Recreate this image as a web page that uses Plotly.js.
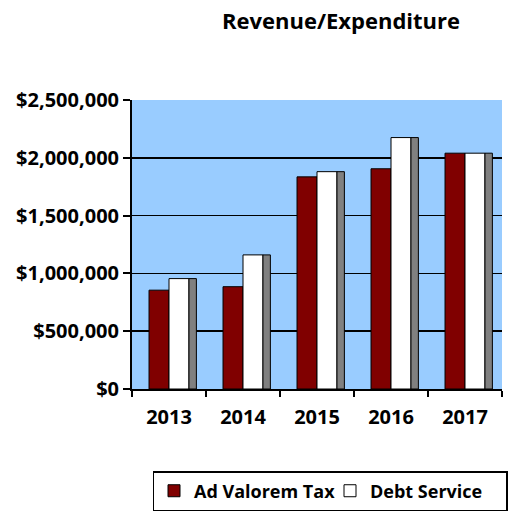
<!DOCTYPE html>
<html>
<head>
<meta charset="utf-8">
<script src="https://cdn.plot.ly/plotly-3.0.1.min.js"></script>
<style>html,body{margin:0;padding:0;background:#fff;}#chart{width:510px;height:512px;}</style>
</head>
<body>
<div id="chart"></div>
<script>
const years = ['2013', '2014', '2015', '2016', '2017'];
const adValoremTax = [855000, 885000, 1835000, 1905000, 2040000];
const debtService = [955000, 1160000, 1880000, 2175000, 2040000];
const yTickVals = [0, 500000, 1000000, 1500000, 2000000, 2500000];
const yTickText = ['$0', '$500,000', '$1,000,000', '$1,500,000', '$2,000,000', '$2,500,000'];

const FONT = 'Open Sans, Lato, sans-serif';
const BW = 0.27;

const traces = [
  {
    type: 'bar', name: 'Ad Valorem Tax', x: years, y: adValoremTax,
    width: BW, offset: -BW,
    marker: {color: '#800000', line: {color: '#000', width: 1}},
    hoverinfo: 'y'
  },
  {
    type: 'bar', name: 'Debt Service', x: years, y: debtService,
    width: BW, offset: 0,
    marker: {color: '#ffffff', line: {color: '#000', width: 1}},
    hoverinfo: 'y'
  },
  {
    type: 'bar', name: 'side', x: years, y: debtService,
    width: 0.1, offset: BW, showlegend: false,
    marker: {color: '#808080', line: {color: '#000', width: 1}},
    hoverinfo: 'skip'
  }
];

const layout = {
  width: 510, height: 512,
  margin: {l: 132, r: 8, t: 100, b: 123, autoexpand: false},
  paper_bgcolor: '#ffffff',
  plot_bgcolor: '#99ccff',
  barmode: 'overlay',
  showlegend: true,
  title: {
    text: '<b>Revenue/Expenditure</b>',
    font: {family: FONT, size: 22, color: '#000'},
    x: 341 / 510, xref: 'container', xanchor: 'center',
    y: 0.958, yref: 'container', yanchor: 'middle'
  },
  xaxis: {
    type: 'category',
    tickfont: {family: FONT, size: 20, color: '#000', weight: 'bold'},
    showline: true, linecolor: '#000', linewidth: 2,
    ticks: 'outside', ticklen: 6, tickcolor: '#000', tickwidth: 2,
    tickson: 'boundaries',
    ticklabelstandoff: 9,
    showgrid: false, zeroline: false,
    range: [-0.5, 4.5],
    fixedrange: true
  },
  yaxis: {
    range: [0, 2500000],
    tickvals: yTickVals, ticktext: yTickText,
    tickfont: {family: FONT, size: 20, color: '#000', weight: 'bold'},
    showline: true, linecolor: '#000', linewidth: 2,
    ticks: 'outside', ticklen: 7, tickcolor: '#000', tickwidth: 2,
    showgrid: true, gridcolor: '#000', gridwidth: 1.5,
    zeroline: false,
    fixedrange: true
  },
  legend: {
    orientation: 'h',
    x: 330 / 510, xanchor: 'center', xref: 'container',
    y: 0.08, yanchor: 'top', yref: 'container',
    bordercolor: '#000', borderwidth: 1.5,
    font: {family: FONT, size: 18, color: '#000', weight: 'bold'},
    itemwidth: 30,
    entrywidth: 131,
    traceorder: 'normal'
  },
  hovermode: false
};

Plotly.newPlot('chart', traces, layout, {displayModeBar: false, staticPlot: true});
</script>
</body>
</html>
